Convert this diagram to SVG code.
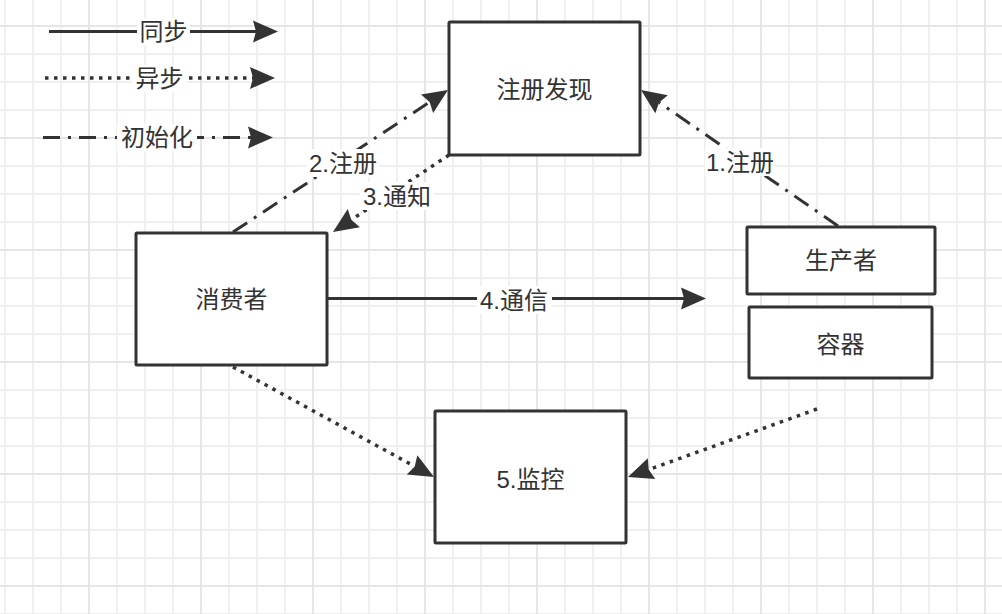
<svg xmlns="http://www.w3.org/2000/svg" width="1002" height="614" viewBox="0 0 1002 614">
<style>
.box{fill:#fff;stroke:#333;stroke-width:3}
.t{font-family:"Liberation Sans","Noto Sans CJK SC",sans-serif;font-size:24px;fill:#333;text-anchor:middle;dominant-baseline:central}
.ln{fill:none;stroke:#333;stroke-width:3}
.dot{stroke-dasharray:3.5 5.5;stroke-width:3.5}
.dd{stroke-dasharray:17 8 3 8}
.bg{fill:#fff}
</style>
<defs>
<pattern id="gmin" patternUnits="userSpaceOnUse" x="4" y="25" width="28" height="28">
<rect x="0" y="0" width="2" height="28" fill="#f0f0f0"/>
<rect x="0" y="0" width="28" height="2" fill="#f0f0f0"/>
</pattern>
<pattern id="gmaj" patternUnits="userSpaceOnUse" x="88" y="25" width="112" height="112">
<rect x="0" y="0" width="2" height="112" fill="#e6e6e6"/>
<rect x="0" y="0" width="112" height="2" fill="#e6e6e6"/>
</pattern>
<marker id="arr" markerUnits="userSpaceOnUse" markerWidth="26" markerHeight="24" refX="3" refY="11" orient="auto" overflow="visible">
<path d="M0,0 L25,11 L0,22 L3,11 Z" fill="#333"/>
</marker>
</defs>
<rect width="1002" height="614" fill="#fff"/>
<rect width="1002" height="614" fill="url(#gmin)"/>
<rect width="1002" height="614" fill="url(#gmaj)"/>

<g id="legend">
<path class="ln" d="M49 31.5H256" marker-end="url(#arr)"/>
<rect class="bg" x="137" y="18" width="53" height="27"/>
<text class="t" x="163.5" y="31">同步</text>
<path class="ln dot" d="M45 78H253" marker-end="url(#arr)"/>
<rect class="bg" x="132" y="65" width="55" height="27"/>
<text class="t" x="159.5" y="78">异步</text>
<path class="ln dd" d="M43 137.5H251" marker-end="url(#arr)"/>
<rect class="bg" x="117" y="124" width="80" height="27"/>
<text class="t" x="157" y="137">初始化</text>
</g>

<g id="connectors">
<path class="ln dd" d="M838 226L659.1 102.5" marker-end="url(#arr)"/>
<path class="ln dd" d="M233 232L429.6 102.1" marker-end="url(#arr)"/>
<path class="ln dot" d="M449 155L351.3 219.8" marker-end="url(#arr)"/>
<path class="ln" d="M328 298.5H684" marker-end="url(#arr)"/>
<path class="ln dot" d="M233 367L414.7 466.4" marker-end="url(#arr)"/>
<path class="ln dot" d="M817 409L648.7 469.6" marker-end="url(#arr)"/>
<rect class="bg" x="705" y="148" width="70" height="28"/>
<text class="t" x="740" y="162">1.注册</text>
<rect class="bg" x="307" y="149" width="72" height="28"/>
<text class="t" x="343" y="163">2.注册</text>
<rect class="bg" x="360" y="182" width="74" height="28"/>
<text class="t" x="397" y="196">3.通知</text>
<rect class="bg" x="477" y="286" width="75" height="28"/>
<text class="t" x="514" y="300">4.通信</text>
</g>

<g id="registry">
<rect class="box" x="449" y="22" width="191" height="133" rx="1"/>
<text class="t" x="544.5" y="89">注册发现</text>
</g>
<g id="consumer">
<rect class="box" x="136" y="233" width="191" height="132" rx="1"/>
<text class="t" x="231.5" y="299">消费者</text>
</g>
<g id="producer">
<rect class="box" x="747" y="227" width="188" height="67" rx="1"/>
<text class="t" x="841" y="260.5">生产者</text>
</g>
<g id="container">
<rect class="box" x="749" y="307" width="183" height="71" rx="1"/>
<text class="t" x="840.5" y="344">容器</text>
</g>
<g id="monitor">
<rect class="box" x="435" y="411" width="191" height="132" rx="1"/>
<text class="t" x="530.5" y="479">5.监控</text>
</g>
</svg>
